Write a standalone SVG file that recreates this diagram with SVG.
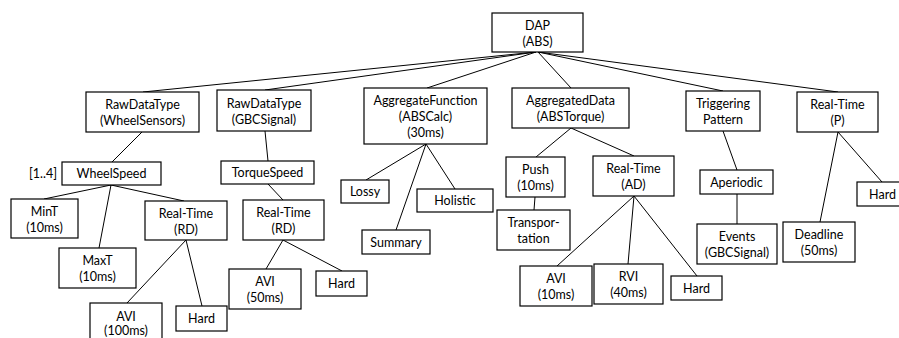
<svg xmlns="http://www.w3.org/2000/svg" width="899" height="338" viewBox="0 0 899 338">
  <style>
    rect { fill: #fff; stroke: #000; stroke-width: 1.2; }
    text { font-family: Lato, "Open Sans", "Liberation Sans", sans-serif; font-size: 12.5px; fill: #000; text-anchor: middle; dominant-baseline: central; }
    #connectors line { stroke: #000; stroke-width: 1; }
  </style>
  <rect x="0" y="0" width="899" height="338" style="stroke:none"/>

  <!-- connectors -->
  <g id="connectors">
    <line x1="536" y1="52" x2="143" y2="92"/>
    <line x1="536" y1="52" x2="265" y2="90"/>
    <line x1="536" y1="52" x2="427" y2="88"/>
    <line x1="538" y1="52" x2="571" y2="88"/>
    <line x1="538" y1="52" x2="723" y2="91"/>
    <line x1="538" y1="52" x2="838" y2="92"/>

    <line x1="142" y1="132" x2="112" y2="162"/>
    <line x1="111" y1="185" x2="44" y2="199"/>
    <line x1="111" y1="185" x2="99" y2="248"/>
    <line x1="111" y1="185" x2="184" y2="201"/>
    <line x1="186" y1="240" x2="127" y2="303"/>
    <line x1="186" y1="240" x2="202" y2="306"/>

    <line x1="265" y1="131" x2="268" y2="161"/>
    <line x1="268" y1="184" x2="283" y2="200"/>
    <line x1="283" y1="240" x2="266" y2="269"/>
    <line x1="283" y1="240" x2="342" y2="271"/>

    <line x1="426" y1="144" x2="366" y2="180"/>
    <line x1="426" y1="144" x2="396" y2="230"/>
    <line x1="426" y1="144" x2="455" y2="189"/>

    <line x1="571" y1="128" x2="536" y2="157"/>
    <line x1="571" y1="128" x2="634" y2="156"/>
    <line x1="535" y1="197" x2="534" y2="210"/>
    <line x1="634" y1="196" x2="557" y2="266"/>
    <line x1="634" y1="196" x2="628" y2="264"/>
    <line x1="634" y1="196" x2="697" y2="276"/>

    <line x1="723" y1="131" x2="737" y2="170"/>
    <line x1="737" y1="194" x2="737" y2="224"/>

    <line x1="838" y1="132" x2="820" y2="222"/>
    <line x1="838" y1="132" x2="882" y2="182"/>
  </g>

  <!-- root -->
  <g id="dap">
    <rect x="492" y="13" width="91" height="39"/>
    <text x="537.5" y="25.5">DAP</text>
    <text x="537.5" y="41.5">(ABS)</text>
  </g>

  <!-- first level -->
  <g id="raw-wheel">
    <rect x="86" y="92" width="113" height="40"/>
    <text x="142.5" y="104.5">RawDataType</text>
    <text x="142.5" y="120.5">(WheelSensors)</text>
  </g>
  <g id="raw-gbc">
    <rect x="217" y="90" width="94" height="41"/>
    <text x="264" y="103">RawDataType</text>
    <text x="264" y="119">(GBCSignal)</text>
  </g>
  <g id="agg-function">
    <rect x="364" y="88" width="123" height="56"/>
    <text x="425.5" y="100">AggregateFunction</text>
    <text x="425.5" y="116.5">(ABSCalc)</text>
    <text x="425.5" y="132">(30ms)</text>
  </g>
  <g id="agg-data">
    <rect x="512" y="88" width="117" height="40"/>
    <text x="570.5" y="100.5">AggregatedData</text>
    <text x="570.5" y="116.5">(ABSTorque)</text>
  </g>
  <g id="triggering">
    <rect x="686" y="91" width="74" height="40"/>
    <text x="723" y="103">Triggering</text>
    <text x="723" y="119">Pattern</text>
  </g>
  <g id="rt-p">
    <rect x="797" y="92" width="81" height="40"/>
    <text x="837.5" y="104.5">Real-Time</text>
    <text x="837.5" y="120.5">(P)</text>
  </g>

  <!-- wheel sensors branch -->
  <g id="wheelspeed">
    <rect x="62" y="162" width="99" height="23"/>
    <text x="111.5" y="173.5">WheelSpeed</text>
    <text x="43" y="173">[1..4]</text>
  </g>
  <g id="mint">
    <rect x="11" y="199" width="67" height="39"/>
    <text x="44.5" y="211.5">MinT</text>
    <text x="44.5" y="227">(10ms)</text>
  </g>
  <g id="maxt">
    <rect x="59" y="248" width="77" height="40"/>
    <text x="97.5" y="260.5">MaxT</text>
    <text x="97.5" y="276">(10ms)</text>
  </g>
  <g id="rt-rd-wheel">
    <rect x="145" y="201" width="82" height="39"/>
    <text x="186" y="213">Real-Time</text>
    <text x="186" y="229">(RD)</text>
  </g>
  <g id="avi-100">
    <rect x="90" y="303" width="72" height="40"/>
    <text x="126" y="316">AVI</text>
    <text x="126" y="330.5">(100ms)</text>
  </g>
  <g id="hard-wheel">
    <rect x="176" y="306" width="51" height="25"/>
    <text x="201.5" y="318.5">Hard</text>
  </g>

  <!-- GBC signal branch -->
  <g id="torquespeed">
    <rect x="221" y="161" width="93" height="23"/>
    <text x="267.5" y="172.5">TorqueSpeed</text>
  </g>
  <g id="rt-rd-torque">
    <rect x="243" y="200" width="81" height="40"/>
    <text x="283.5" y="212.5">Real-Time</text>
    <text x="283.5" y="228">(RD)</text>
  </g>
  <g id="avi-50">
    <rect x="229" y="269" width="72" height="40"/>
    <text x="265" y="281.5">AVI</text>
    <text x="265" y="297.5">(50ms)</text>
  </g>
  <g id="hard-torque">
    <rect x="316" y="271" width="51" height="25"/>
    <text x="341.5" y="283.5">Hard</text>
  </g>

  <!-- aggregate function branch -->
  <g id="lossy">
    <rect x="341" y="180" width="48" height="23"/>
    <text x="365" y="191.5">Lossy</text>
  </g>
  <g id="summary">
    <rect x="362" y="230" width="68" height="24"/>
    <text x="396" y="242">Summary</text>
  </g>
  <g id="holistic">
    <rect x="417" y="189" width="76" height="23"/>
    <text x="455" y="200.5">Holistic</text>
  </g>

  <!-- aggregated data branch -->
  <g id="push">
    <rect x="506" y="157" width="59" height="40"/>
    <text x="535.5" y="169.5">Push</text>
    <text x="535.5" y="185.5">(10ms)</text>
  </g>
  <g id="transportation">
    <rect x="497" y="210" width="73" height="40"/>
    <text x="533.5" y="222.5">Transpor-</text>
    <text x="533.5" y="238.5">tation</text>
  </g>
  <g id="rt-ad">
    <rect x="593" y="156" width="81" height="40"/>
    <text x="633.5" y="168.5">Real-Time</text>
    <text x="633.5" y="184.5">(AD)</text>
  </g>
  <g id="avi-10">
    <rect x="520" y="266" width="72" height="40"/>
    <text x="556" y="278.5">AVI</text>
    <text x="556" y="294.5">(10ms)</text>
  </g>
  <g id="rvi-40">
    <rect x="594" y="264" width="69" height="40"/>
    <text x="628.5" y="276">RVI</text>
    <text x="628.5" y="292">(40ms)</text>
  </g>
  <g id="hard-ad">
    <rect x="671" y="276" width="51" height="24"/>
    <text x="696.5" y="288">Hard</text>
  </g>

  <!-- triggering branch -->
  <g id="aperiodic">
    <rect x="700" y="170" width="73" height="24"/>
    <text x="736.5" y="182">Aperiodic</text>
  </g>
  <g id="events">
    <rect x="697" y="224" width="80" height="40"/>
    <text x="737" y="236.5">Events</text>
    <text x="737" y="252.5">(GBCSignal)</text>
  </g>

  <!-- real-time (P) branch -->
  <g id="deadline">
    <rect x="783" y="222" width="72" height="40"/>
    <text x="819" y="234.5">Deadline</text>
    <text x="819" y="250.5">(50ms)</text>
  </g>
  <g id="hard-p">
    <rect x="857" y="182" width="51" height="24"/>
    <text x="882.5" y="194">Hard</text>
  </g>
</svg>
